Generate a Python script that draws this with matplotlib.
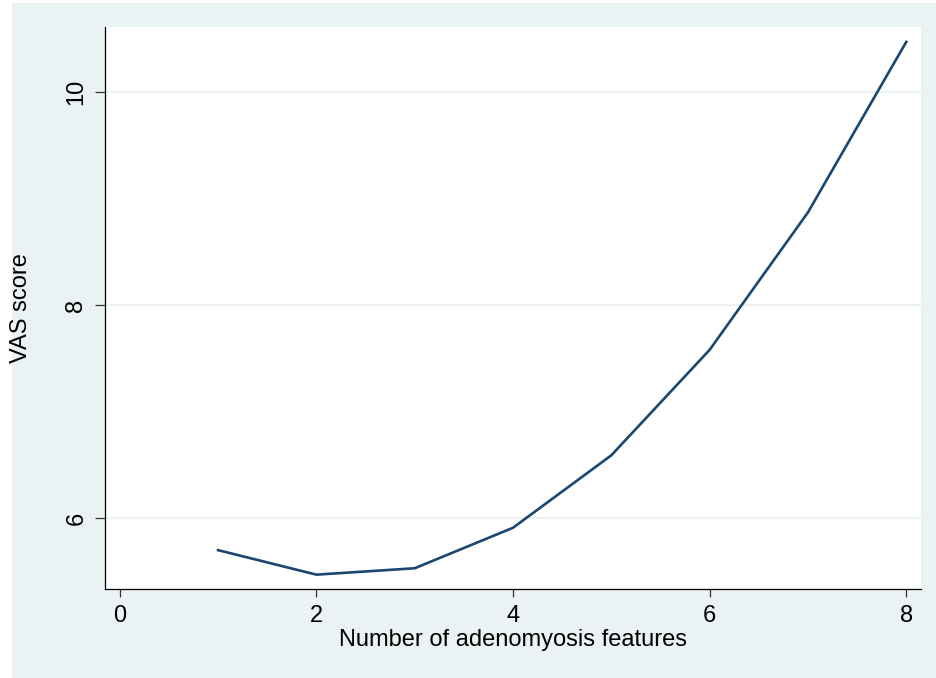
import matplotlib
matplotlib.use("Agg")
import matplotlib.pyplot as plt
from matplotlib.patches import Rectangle

# Data
features = [1, 2, 3, 4, 5, 6, 7, 8]
vas_score = [5.70, 5.47, 5.53, 5.91, 6.59, 7.58, 8.87, 10.47]
x_ticks = [0, 2, 4, 6, 8]
y_ticks = [6, 8, 10]
x_label = "Number of adenomyosis features"
y_label = "VAS score"

bg = "#EAF2F3"
line_color = "#1A476F"

plt.rcParams['font.family'] = ['Liberation Sans', 'DejaVu Sans']

W, H = 937, 678
fig = plt.figure(figsize=(W / 100, H / 100), dpi=100, facecolor="white")
fig.patches.append(Rectangle((12 / W, 0), 1 - 12 / W, (H - 3) / H,
                             transform=fig.transFigure, facecolor=bg,
                             edgecolor="none", zorder=-10))

left, right, top, bottom = 105.5, 921, 27, 588.5
ax = fig.add_axes([left / W, (H - bottom) / H, (right - left) / W, (bottom - top) / H])
ax.set_facecolor("white")

ax.plot(features, vas_score, color=line_color, lw=1.9, solid_joinstyle="round", zorder=3)

ax.set_xlim(-0.145, 8.15)
ax.set_ylim(5.34, 10.61)
ax.set_xticks(x_ticks)
ax.set_yticks(y_ticks)
ax.set_xticklabels([str(v) for v in x_ticks])
ax.set_yticklabels([str(v) for v in y_ticks], rotation=90, va="center")

ax.grid(axis="y", color=bg, lw=1.6, zorder=1)
ax.set_axisbelow(True)

for s in ["top", "right"]:
    ax.spines[s].set_visible(False)
for s in ["left", "bottom"]:
    ax.spines[s].set_color("black")
    ax.spines[s].set_linewidth(0.9)

ax.tick_params(axis="x", length=6, width=0.9, color="#333333", pad=6, labelsize=17)
ax.tick_params(axis="y", length=7, width=0.9, color="#333333", pad=6, labelsize=17)

ax.set_xlabel(x_label, fontsize=17, va="center")
ax.set_ylabel(y_label, fontsize=17, va="center")
ax.xaxis.set_label_coords(0.5, (bottom - 640) / (bottom - top))
ax.yaxis.set_label_coords((21 - left) / (right - left), 0.5)

fig.savefig("out.png", dpi=100, facecolor=fig.get_facecolor())
